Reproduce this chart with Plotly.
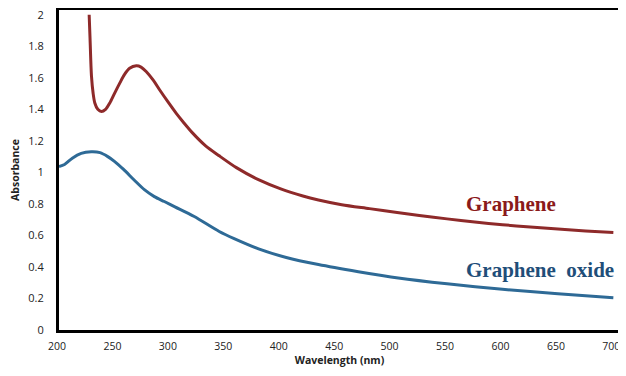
import plotly.graph_objects as go

# Graphene (red) absorbance spectrum
graphene_wavelength = [227.2, 228.0, 229.3, 230.8, 232.3, 235.0, 238.3, 242.0, 245.8, 250.0,
                       254.8, 259.0, 263.7, 269.7, 274.0, 278.6, 285.0, 290.7, 298.0, 305.6,
                       312.0, 320.6, 332.0, 344.5, 360.0, 380.4, 400.0, 420.0, 434.0, 455.0,
                       480.0, 505.0, 525.0, 550.0, 575.0, 600.0, 625.0, 650.0, 675.0, 700.0]
graphene_absorbance = [2.00, 1.85, 1.61, 1.50, 1.44, 1.40, 1.386, 1.40, 1.44, 1.50,
                       1.566, 1.62, 1.66, 1.676, 1.668, 1.64, 1.585, 1.524, 1.45, 1.376,
                       1.32, 1.249, 1.17, 1.105, 1.03, 0.952, 0.895, 0.85, 0.825, 0.795,
                       0.77, 0.745, 0.727, 0.705, 0.685, 0.668, 0.653, 0.64, 0.628, 0.618]

# Graphene oxide (blue) absorbance spectrum
oxide_wavelength = [200.0, 205.0, 212.0, 220.0, 229.0, 237.0, 244.0, 250.0, 258.0, 268.0,
                    277.0, 286.0, 295.0, 305.0, 322.0, 344.5, 358.0, 380.0, 405.0, 434.0,
                    470.0, 506.0, 550.0, 600.0, 650.0, 700.0]
oxide_absorbance = [1.037, 1.05, 1.09, 1.12, 1.13, 1.125, 1.10, 1.07, 1.02, 0.95,
                    0.89, 0.846, 0.815, 0.78, 0.72, 0.625, 0.58, 0.515, 0.46, 0.415,
                    0.37, 0.33, 0.293, 0.258, 0.23, 0.205]

x_ticks = [200, 250, 300, 350, 400, 450, 500, 550, 600, 650, 700]
y_ticks = [0, 0.2, 0.4, 0.6, 0.8, 1, 1.2, 1.4, 1.6, 1.8, 2]
y_tick_labels = ["0", "0.2", "0.4", "0.6", "0.8", "1", "1.2", "1.4", "1.6", "1.8", "2"]

fig = go.Figure()
fig.add_trace(go.Scatter(x=graphene_wavelength, y=graphene_absorbance, mode="lines",
                         line=dict(color="#8E2A2A", width=3, shape="spline", smoothing=0.8),
                         name="Graphene", showlegend=False))
fig.add_trace(go.Scatter(x=oxide_wavelength, y=oxide_absorbance, mode="lines",
                         line=dict(color="#2E6A96", width=3, shape="spline", smoothing=0.8),
                         name="Graphene oxide", showlegend=False))

fig.add_annotation(x=0.806, y=0.80, xref="paper", yref="y", xanchor="center", yanchor="middle",
                   text="<b>Graphene</b>", showarrow=False,
                   font=dict(family="Liberation Serif", size=21, color="#8B1A1A"))
fig.add_annotation(x=0.858, y=0.381, xref="paper", yref="y", xanchor="center", yanchor="middle",
                   text="<b>Graphene  oxide</b>", showarrow=False,
                   font=dict(family="Liberation Serif", size=21, color="#1F4E79"))

# page body has an 8px margin, so the figure is sized/offset to compensate
fig.update_layout(
    width=618, height=360,
    margin=dict(l=51, r=6, t=2, b=38, autoexpand=False),
    paper_bgcolor="white", plot_bgcolor="white",
    font=dict(family="Open Sans", size=11, color="#222"),
)
fig.update_xaxes(range=[200, 706], tickvals=x_ticks, showgrid=False, zeroline=False,
                 showline=True, linecolor="black", linewidth=3, mirror=True,
                 ticks="", ticklabelstandoff=4, ticklabelshift=-2, automargin=False,
                 ticklabeloverflow="allow", tickfont=dict(size=10.5),
                 title=dict(text="<b>Wavelength (nm)</b>", font=dict(size=10.5), standoff=6))
fig.update_yaxes(range=[0, 2.03], tickvals=y_ticks, ticktext=y_tick_labels, showgrid=False,
                 zeroline=False, showline=True, linecolor="black", linewidth=3, mirror=True,
                 ticks="", ticklabelstandoff=10, automargin=False, ticklabeloverflow="allow",
                 title=dict(text="<b>Absorbance</b>", font=dict(size=10.5), standoff=8))

fig.write_html("out.html")
